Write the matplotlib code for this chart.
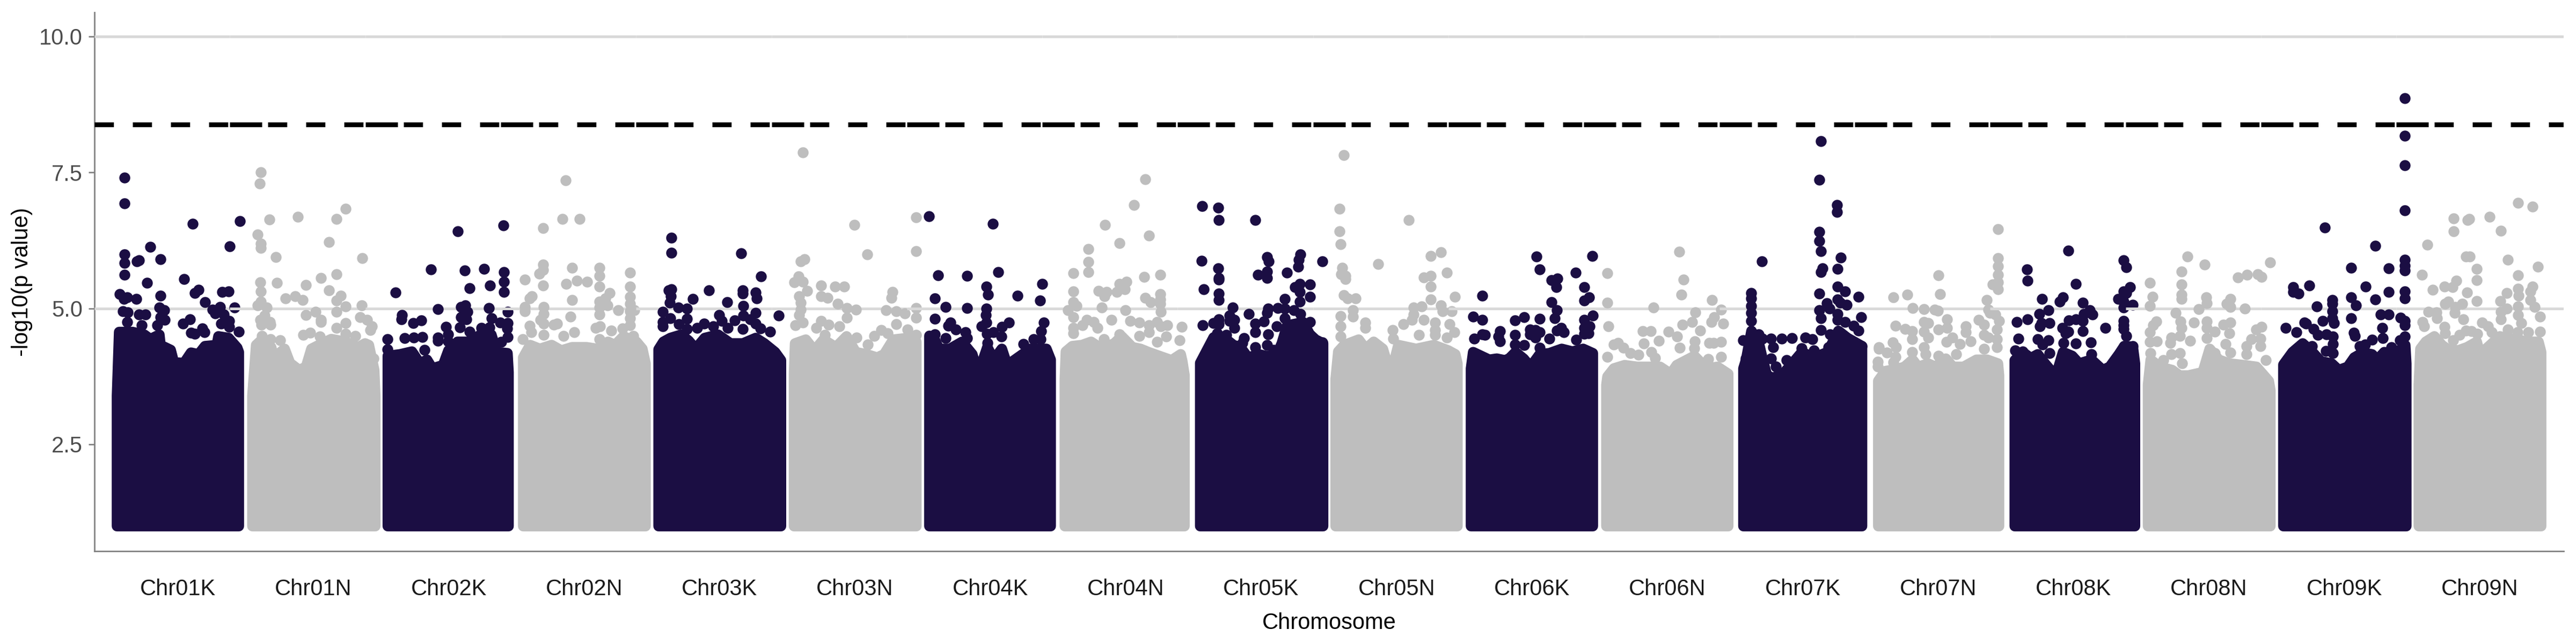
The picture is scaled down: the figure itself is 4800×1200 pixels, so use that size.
# manhattan plot of -log10(p) per chromosome, two subgenomes (K / N)
import matplotlib
matplotlib.use("Agg")
import matplotlib.pyplot as plt
import numpy as np

plt.rcParams['font.family'] = ['Liberation Sans', 'DejaVu Sans']

chromosomes = ["Chr01K", "Chr01N", "Chr02K", "Chr02N", "Chr03K", "Chr03N", "Chr04K", "Chr04N", "Chr05K",
               "Chr05N", "Chr06K", "Chr06N", "Chr07K", "Chr07N", "Chr08K", "Chr08N", "Chr09K", "Chr09N"]
y_ticks = [2.5, 5.0, 7.5, 10.0]
threshold = 8.38
floor_log = 1.0
chrom_step = 252.3
label_center = 114

# snps standing clear of the solid mass, position inside the chromosome and -log10(p)
pos_01k = [14,14,141,229,210,62,14,14,41,37,81,14,56,125,152,145,208,196,5,19,13,36,81,164,219,192,79,178,11,20,41,53,88,183,81,89,136,123,19,46,75,194,209,209,159,227,138,145,163,199]
log_01k = [7.40,6.93,6.56,6.60,6.14,6.13,5.99,5.83,5.88,5.86,5.90,5.62,5.47,5.54,5.34,5.28,5.31,5.30,5.26,5.20,5.17,5.17,5.23,5.11,5.02,5.03,5.02,4.98,4.95,4.93,4.89,4.89,4.97,4.91,4.84,4.79,4.80,4.72,4.75,4.69,4.69,4.72,4.77,4.66,4.63,4.57,4.55,4.53,4.56,4.89]
pos_01n = [16,14,32,85,174,157,10,16,16,143,44,205,157,128,15,46,100,143,16,62,80,94,165,157,16,10,27,174,204,118,157,100,128,128,23,201,214,174,15,33,17,34,223,220,157,174,95,108,126,192,18,34,52,226]
log_01n = [7.50,7.30,6.63,6.68,6.83,6.64,6.36,6.19,6.11,6.22,5.94,5.92,5.63,5.56,5.48,5.47,5.43,5.33,5.31,5.18,5.22,5.15,5.23,5.14,5.12,5.06,5.02,5.04,5.06,4.94,4.94,4.88,4.79,4.75,4.87,4.84,4.79,4.73,4.79,4.75,4.70,4.70,4.67,4.60,4.64,4.53,4.51,4.55,4.48,4.49,4.49,4.43,4.41,4.08]
pos_02k = [131,216,81,144,180,217,217,191,153,217,15,145,137,94,189,149,224,27,26,63,48,194,137,147,210,224,109,135,223,153,32,49,65,94,94,113,224,212,0,0,69,113,175,190]
log_02k = [6.42,6.53,5.72,5.70,5.73,5.67,5.49,5.42,5.37,5.30,5.29,5.06,5.03,4.99,5.01,4.94,4.94,4.88,4.80,4.78,4.73,4.82,4.84,4.80,4.74,4.73,4.66,4.65,4.63,4.57,4.45,4.46,4.47,4.46,4.40,4.52,4.47,4.38,4.43,4.25,4.24,4.39,4.64,4.65]
pos_02n = [80,74,106,38,38,38,31,92,143,143,200,4,38,81,101,120,143,200,17,13,162,200,92,143,154,200,4,4,39,158,143,178,208,200,143,39,89,33,200,13,39,64,58,144,136,96,16,39,76,186,200,165,0,143,206]
log_02n = [7.35,6.64,6.64,6.48,5.81,5.71,5.64,5.75,5.75,5.60,5.66,5.53,5.42,5.45,5.51,5.49,5.40,5.40,5.22,5.18,5.28,5.21,5.15,5.12,5.18,5.08,5.03,4.95,5.03,5.06,5.02,4.97,4.97,4.95,4.89,4.90,4.85,4.79,4.82,4.68,4.72,4.72,4.70,4.67,4.64,4.56,4.56,4.51,4.49,4.63,4.69,4.59,4.43,4.43,4.49]
pos_03k = [24,24,154,191,94,24,19,157,157,181,183,64,23,128,21,37,53,158,8,181,224,113,53,158,8,22,38,142,171,118,8,129,85,53,72,102,208,157,181,190]
log_03k = [6.30,6.02,6.01,5.59,5.33,5.35,5.33,5.33,5.27,5.29,5.18,5.17,5.22,5.11,5.10,5.02,5.00,5.05,4.94,4.92,4.87,4.88,4.81,4.87,4.75,4.82,4.71,4.78,4.80,4.77,4.67,4.64,4.72,4.62,4.64,4.67,4.57,4.62,4.72,4.63]
pos_03n = [17,113,228,137,228,20,13,9,1,17,51,77,94,25,51,63,184,182,10,82,99,116,172,191,207,228,228,13,13,10,99,51,3,17,65,85,191,212,163,175,150,228,117,138,42,58]
log_03n = [7.87,6.54,6.67,5.99,6.05,5.90,5.86,5.59,5.48,5.49,5.42,5.40,5.40,5.32,5.22,5.19,5.30,5.19,5.22,5.08,5.01,4.98,4.97,4.95,4.91,5.01,4.83,5.10,4.98,4.88,4.83,4.77,4.69,4.74,4.70,4.67,4.71,4.61,4.60,4.54,4.49,4.51,4.46,4.33,4.64,4.51]
pos_04k = [0,119,17,71,129,107,211,110,165,11,207,31,71,107,106,11,214,149,40,36,107,98,136,50,68,209,120,108,135,11,31,71,176,195,208,109]
log_04k = [6.69,6.56,5.61,5.60,5.67,5.40,5.45,5.25,5.23,5.18,5.14,5.03,5.01,5.00,4.88,4.81,4.74,4.74,4.74,4.68,4.74,4.67,4.66,4.61,4.56,4.58,4.56,4.53,4.48,4.52,4.45,4.45,4.34,4.43,4.43,4.36]
pos_04n = [150,129,75,157,102,44,44,44,16,148,178,115,102,16,63,78,74,97,112,178,150,160,178,16,22,6,69,178,179,113,16,87,122,139,172,41,54,191,218,33,16,61,157,179,16,139,189,157,73,214,172,102]
log_04n = [7.37,6.90,6.54,6.34,6.20,6.09,5.85,5.67,5.65,5.58,5.62,5.49,5.45,5.31,5.32,5.30,5.22,5.30,5.35,5.26,5.19,5.11,5.16,5.11,5.05,4.97,5.02,5.08,4.94,4.97,4.84,4.79,4.77,4.74,4.75,4.79,4.75,4.69,4.66,4.69,4.64,4.64,4.69,4.67,4.54,4.49,4.48,4.56,4.43,4.41,4.38,4.52]
pos_05k = [4,3,7,5,34,35,103,228,125,128,187,184,183,34,35,35,125,108,125,162,186,205,177,186,205,35,35,158,186,61,127,125,145,158,175,187,91,55,35,64,25,35,55,64,119,103,205,158,143,103,32,49,127,82,205,79,103,125,137,228]
log_05k = [6.88,5.87,5.35,4.69,6.85,6.62,6.62,5.86,5.94,5.86,5.99,5.89,5.77,5.74,5.56,5.53,5.68,5.62,5.56,5.66,5.45,5.44,5.39,5.30,5.21,5.27,5.15,5.17,5.12,5.02,5.00,4.92,5.01,5.00,4.97,4.90,4.90,4.87,4.80,4.79,4.73,4.71,4.77,4.64,4.76,4.72,4.75,4.82,4.67,4.56,4.54,4.51,4.52,4.45,4.51,4.36,4.29,4.32,4.24,4.37]
pos_05n = [16,8,8,10,137,80,13,11,19,19,197,178,208,165,178,178,223,16,23,38,178,33,146,161,197,217,200,10,33,146,143,56,165,186,213,10,56,127,107,186,222,156,208,10,108,186]
log_05n = [7.82,6.83,6.42,6.18,6.62,5.82,5.75,5.63,5.60,5.54,6.03,5.96,5.66,5.57,5.60,5.40,5.21,5.24,5.18,5.18,5.16,4.97,5.02,5.04,5.06,4.95,4.95,4.86,4.85,4.89,4.79,4.74,4.79,4.74,4.71,4.67,4.64,4.71,4.60,4.60,4.56,4.51,4.46,4.48,4.44,4.51]
pos_06k = [21,21,4,6,122,226,128,195,161,150,159,211,220,211,150,160,99,82,128,227,156,211,54,51,54,110,120,128,110,120,82,168,173,221,211,211,219,26,146,196,99,82,128,21,160]
log_06k = [5.23,4.79,4.85,4.44,5.95,5.96,5.72,5.66,5.55,5.52,5.39,5.39,5.20,5.14,5.11,4.97,4.84,4.78,4.81,4.87,4.82,4.79,4.58,4.48,4.39,4.61,4.60,4.56,4.52,4.46,4.51,4.64,4.56,4.67,4.64,4.53,4.54,4.51,4.44,4.42,4.32,4.33,4.28,4.52,4.59]
pos_06n = [136,2,144,140,2,197,88,214,166,201,196,218,4,160,142,68,83,116,175,132,98,70,192,200,214,22,14,165,137,164,32,45,60,2,84,91,190,214]
log_06n = [6.04,5.65,5.53,5.25,5.10,5.15,5.02,4.98,4.93,4.84,4.75,4.72,4.67,4.75,4.70,4.58,4.58,4.57,4.59,4.48,4.40,4.35,4.36,4.36,4.38,4.36,4.33,4.39,4.28,4.27,4.28,4.18,4.15,4.11,4.20,4.09,4.07,4.11]
pos_07k = [18,18,18,18,18,3,18,8,38,148,145,178,178,145,145,148,185,151,148,179,179,193,145,218,179,159,196,184,164,145,179,223,148,179,193,209,218,148,32,39,55,75,94,119,132,59,165,55,64,84,112,135,162,224]
log_07k = [5.28,5.18,5.05,4.92,4.77,4.41,4.51,4.08,5.86,8.08,7.36,6.90,6.77,6.41,6.24,6.05,5.93,5.74,5.67,5.73,5.40,5.31,5.27,5.21,5.16,5.09,5.07,5.10,5.00,4.97,4.90,4.84,4.82,4.79,4.75,4.68,4.59,4.60,4.52,4.44,4.44,4.44,4.45,4.46,4.43,4.29,4.52,4.08,3.93,4.05,4.27,4.23,4.29,4.31]
pos_07n = [226,226,226,115,226,226,216,226,118,31,57,205,67,88,108,114,208,211,221,131,190,228,88,96,35,200,53,66,115,131,166,166,224,88,200,96,208,141,66,224,30,130,88,175,155,36,4,4,200,224,19,35,148,66,115,91,2,2,31]
log_07n = [6.46,5.92,5.78,5.61,5.62,5.48,5.44,5.35,5.26,5.20,5.25,5.15,5.01,4.99,4.98,4.96,4.98,4.92,4.89,4.80,4.79,4.77,4.75,4.73,4.68,4.70,4.62,4.58,4.61,4.64,4.67,4.56,4.61,4.57,4.51,4.46,4.46,4.46,4.43,4.43,4.37,4.38,4.29,4.39,4.34,4.29,4.29,4.26,4.26,4.29,4.19,4.11,4.16,4.20,4.13,4.16,4.02,3.93,4.01]
pos_08k = [27,28,28,8,11,5,19,104,118,55,94,88,131,67,50,144,149,133,54,69,51,118,105,131,93,104,131,173,99,67,47,118,146,95,56,69,147,207,212,219,207,212,197,207,224,207,207,207,207,212,208,224]
log_08k = [5.72,5.51,4.80,4.75,4.44,4.23,4.21,6.06,5.45,5.17,5.20,5.12,5.10,4.97,4.90,4.97,4.89,4.90,4.73,4.73,4.67,4.80,4.78,4.77,4.64,4.57,4.58,4.64,4.54,4.41,4.43,4.35,4.37,4.36,4.33,4.18,4.16,5.88,5.76,5.39,5.31,5.28,5.17,5.12,5.07,5.02,4.77,4.69,4.62,4.49,4.31,4.31]
pos_08n = [74,106,63,228,205,212,168,185,4,63,9,63,63,109,110,4,154,147,154,95,181,52,16,10,61,110,86,154,141,63,4,110,212,202,125,152,44,60,79,4,17,42,193,210,110,145,154,184,210,5,44,60,125,184,220,64,29]
log_08n = [5.95,5.81,5.68,5.84,5.63,5.58,5.57,5.62,5.47,5.44,5.21,5.25,5.17,5.20,5.09,5.05,5.17,5.08,5.03,4.99,5.00,4.92,4.76,4.69,4.76,4.76,4.74,4.74,4.70,4.64,4.56,4.64,4.66,4.61,4.57,4.54,4.46,4.49,4.40,4.38,4.39,4.36,4.43,4.44,4.45,4.34,4.19,4.31,4.31,4.18,4.16,4.18,4.18,4.16,4.05,3.99,4.05]
pos_09k = [227,227,227,227,78,172,127,197,227,227,227,49,154,197,227,227,127,136,172,92,92,63,92,182,197,127,92,219,227,74,95,227,185,43,57,81,65,132,134,93,93,186,166,227,218,153,143,202,80,93,54,19,19,29,5,25,40]
log_09k = [8.86,8.17,7.63,6.80,6.49,6.15,5.75,5.74,5.89,5.79,5.70,5.42,5.40,5.30,5.31,5.18,5.20,5.06,5.16,5.15,5.08,5.04,4.95,4.89,4.89,4.82,4.82,4.83,4.77,4.77,4.73,4.69,4.64,4.72,4.62,4.52,4.51,4.55,4.49,4.48,4.34,4.45,4.42,4.48,4.41,4.33,4.31,4.29,4.22,4.18,4.31,5.39,5.30,5.27,4.64,4.56,4.74]
pos_09n = [185,212,65,91,94,132,65,153,16,88,95,166,222,108,6,185,108,70,48,63,26,185,212,90,164,186,208,108,152,49,55,81,68,164,185,208,216,18,33,153,67,83,185,226,7,118,153,34,191,10,48,129,166,226,49,184,204,88,98,109,76,64,136,135]
log_09n = [6.94,6.87,6.65,6.62,6.64,6.68,6.42,6.43,6.17,5.95,5.95,5.89,5.77,5.73,5.62,5.61,5.52,5.51,5.40,5.39,5.34,5.36,5.40,5.29,5.28,5.23,5.31,5.13,5.13,5.08,5.12,5.08,5.03,5.00,5.04,5.15,5.03,4.94,4.93,4.94,4.92,4.80,4.88,4.85,4.75,4.74,4.80,4.82,4.73,4.67,4.66,4.67,4.61,4.57,4.54,4.56,4.56,4.59,4.58,4.53,4.51,4.41,4.56,4.32]

# upper outline of the solid mass of snps for each chromosome
top_pos_01k = [0,4,29,51,62,79,81,100,106,125,138,152,164,186,189,208,224,227]
top_log_01k = [3.40,4.57,4.57,4.52,4.44,4.52,4.33,4.24,4.01,4.00,4.19,4.16,4.31,4.33,4.49,4.46,4.28,4.20]
top_pos_01n = [0,7,18,35,40,60,70,87,100,110,130,147,174,197,210,217,227,229]
top_log_01n = [3.40,4.33,4.43,4.29,4.10,4.26,4.00,3.87,3.93,4.26,4.36,4.44,4.39,4.29,4.36,4.33,3.87,3.40]
top_pos_02k = [0,23,45,60,73,83,103,113,130,150,173,193,203,223,225]
top_log_02k = [4.13,4.16,4.21,3.99,4.06,3.90,3.96,4.23,4.39,4.39,4.52,4.52,4.20,4.18,3.83]
top_pos_02n = [0,13,31,53,71,91,118,138,158,171,187,211,222,228]
top_log_02n = [4.10,4.33,4.26,4.33,4.23,4.29,4.29,4.26,4.39,4.33,4.49,4.39,4.26,3.99]
top_pos_03k = [0,9,22,42,56,69,86,111,134,157,181,197,217,228]
top_log_03k = [4.25,4.39,4.46,4.52,4.41,4.26,4.46,4.52,4.36,4.36,4.46,4.36,4.20,4.05]
top_pos_03n = [0,2,22,38,55,78,98,115,135,155,168,185,212,228]
top_log_03n = [3.80,4.36,4.43,4.23,4.43,4.29,4.49,4.20,4.16,4.10,4.16,4.43,4.46,4.39]
top_pos_04k = [0,10,18,38,61,80,85,91,108,120,135,145,165,188,218,226]
top_log_04k = [4.50,4.43,4.26,4.26,4.39,4.16,3.99,3.80,4.29,4.06,4.26,3.96,4.10,4.26,4.26,4.06]
top_pos_04n = [0,2,14,32,49,69,92,106,126,141,156,176,199,216,219,223]
top_log_04n = [3.70,4.21,4.31,4.33,4.39,4.26,4.36,4.49,4.29,4.26,4.20,4.13,4.05,4.16,4.03,3.78]
top_pos_05k = [0,25,49,62,75,89,109,122,142,152,162,192,204,215,229]
top_log_05k = [4.00,4.47,4.43,4.33,4.29,4.10,4.16,4.13,4.13,4.36,4.69,4.75,4.53,4.43,4.36]
top_pos_05n = [0,5,16,43,56,71,88,96,110,117,150,183,210,223,227]
top_log_05n = [3.70,4.21,4.33,4.43,4.26,4.39,4.26,4.00,4.06,4.33,4.26,4.33,4.23,4.16,3.99]
top_pos_06k = [0,4,19,34,48,63,71,83,98,111,128,146,169,189,209,227]
top_log_06k = [3.90,4.20,4.13,4.06,4.08,4.05,4.08,4.20,4.08,3.93,4.16,4.18,4.26,4.21,4.26,4.18]
top_pos_06n = [0,2,14,34,57,74,100,120,131,164,187,207,227]
top_log_06n = [3.60,3.75,3.90,3.96,3.93,3.93,3.93,3.80,3.96,4.13,3.90,3.93,3.80]
top_pos_07k = [3,8,18,32,39,47,57,74,94,112,134,160,180,197,224]
top_log_07k = [3.90,4.06,4.59,4.36,4.06,3.77,3.73,3.77,3.99,4.20,4.10,4.20,4.59,4.46,4.31]
top_pos_07n = [2,15,41,51,66,76,95,108,128,141,161,185,205,225,227]
top_log_07n = [3.67,3.85,3.90,3.93,4.06,3.93,3.99,3.93,4.08,3.93,3.93,4.06,4.06,3.99,3.77]
top_pos_08k = [4,19,34,47,57,68,81,94,111,124,147,168,181,198,208,224,228]
top_log_08k = [4.05,4.20,4.09,4.16,4.03,3.90,3.77,4.20,4.13,3.99,4.06,3.87,3.93,4.16,4.31,4.30,3.99]
top_pos_08n = [0,5,22,45,59,75,102,115,132,152,179,202,225,228]
top_log_08n = [3.60,4.06,3.93,3.87,3.77,3.77,3.83,4.26,4.06,3.99,3.96,3.93,3.67,3.50]
top_pos_09k = [0,17,36,55,70,90,103,120,132,148,165,175,188,208,227,229]
top_log_09k = [3.97,4.20,4.36,4.19,4.03,3.99,3.87,3.93,4.10,4.19,4.16,4.06,4.20,4.16,4.33,3.99]
top_pos_09n = [0,3,13,29,43,53,73,90,108,114,151,166,183,203,223,228]
top_log_09n = [3.60,4.26,4.39,4.49,4.33,4.26,4.23,4.29,4.39,4.16,4.49,4.46,4.43,4.39,4.39,4.20]

all_pos = [pos_01k, pos_01n, pos_02k, pos_02n, pos_03k, pos_03n, pos_04k, pos_04n, pos_05k,
           pos_05n, pos_06k, pos_06n, pos_07k, pos_07n, pos_08k, pos_08n, pos_09k, pos_09n]
all_log = [log_01k, log_01n, log_02k, log_02n, log_03k, log_03n, log_04k, log_04n, log_05k,
           log_05n, log_06k, log_06n, log_07k, log_07n, log_08k, log_08n, log_09k, log_09n]
all_top_pos = [top_pos_01k, top_pos_01n, top_pos_02k, top_pos_02n, top_pos_03k, top_pos_03n, top_pos_04k,
               top_pos_04n, top_pos_05k, top_pos_05n, top_pos_06k, top_pos_06n, top_pos_07k, top_pos_07n,
               top_pos_08k, top_pos_08n, top_pos_09k, top_pos_09n]
all_top_log = [top_log_01k, top_log_01n, top_log_02k, top_log_02n, top_log_03k, top_log_03n, top_log_04k,
               top_log_04n, top_log_05k, top_log_05n, top_log_06k, top_log_06n, top_log_07k, top_log_07n,
               top_log_08k, top_log_08n, top_log_09k, top_log_09n]

colors = ["#1B0E43", "#BEBEBE"]
grid_color = "#D9D9D9"
axis_color = "#808080"
point_size = 24     # a little over 19 px across at 300 dpi
edge_width = 4.7    # same width as a point, gives the mass its round corners

fig = plt.figure(figsize=(16, 4), dpi=300)
ax = fig.add_axes([176 / 4800, 1 - 1027 / 1200, (4777 - 176) / 4800, (1027 - 23) / 1200])
ax.set_xlim(-41.5, 4559.5)
ax.set_ylim(0.535, 10.444)

for i in range(len(chromosomes)):
    start = i * chrom_step
    panel_left = start - 41.5
    panel_right = panel_left + chrom_step if i < len(chromosomes) - 1 else 4559.5
    color = colors[i % 2]
    z = 3 + i * 3

    # every chromosome panel has its own grid lines, painted over the panel before it
    ax.hlines([5.0, 10.0], panel_left, panel_right, color=grid_color, lw=1.2, zorder=z)

    xs = start + np.array(all_top_pos[i], dtype=float)
    ax.fill_between(xs, floor_log, all_top_log[i], facecolor=color, edgecolor=color,
                    linewidth=edge_width, joinstyle='round', zorder=z + 1)
    ax.scatter(start + np.array(all_pos[i], dtype=float), all_log[i], s=point_size, color=color,
               linewidths=0, zorder=z + 1)

    # threshold restarts its dash pattern in each panel
    ax.plot([panel_left, panel_right], [threshold, threshold], color="black", lw=2.16,
            dashes=(3.97, 3.92), zorder=100)
    if i > 0:
        ax.plot([panel_left + 24, panel_left + 60], [threshold, threshold], color="black", lw=2.16,
                solid_capstyle='butt', zorder=100)

ax.set_xticks([i * chrom_step + label_center for i in range(len(chromosomes))])
ax.set_xticklabels(chromosomes)
ax.set_yticks(y_ticks)
ax.set_yticklabels(["%.1f" % v for v in y_ticks])
ax.tick_params(axis='x', length=0, pad=12.2, labelsize=10, labelcolor="#1A1A1A")
ax.tick_params(axis='y', length=2.64, width=0.65, color=axis_color, pad=2.6, labelsize=10, labelcolor="#4D4D4D")

ax.set_xlabel("Chromosome", fontsize=10, labelpad=5.5)
ax.set_ylabel("-log10(p value)", fontsize=10, labelpad=3)

for side in ['top', 'right']:
    ax.spines[side].set_visible(False)
for side in ['left', 'bottom']:
    ax.spines[side].set_color(axis_color)
    ax.spines[side].set_linewidth(0.65)

fig.savefig("out.png", dpi=300)
